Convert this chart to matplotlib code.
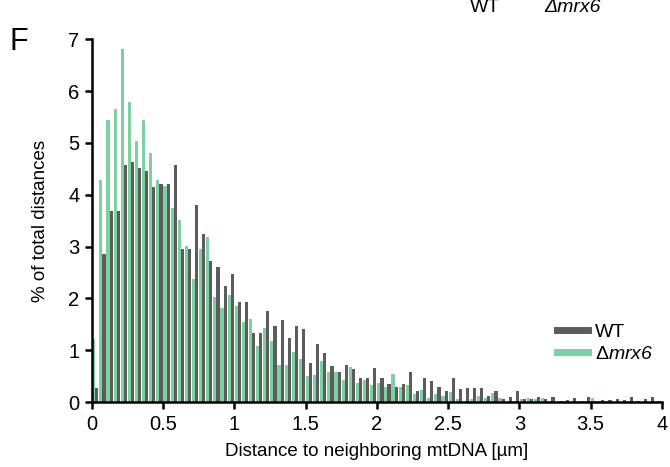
import numpy as np
import matplotlib
matplotlib.use("Agg")
import matplotlib.pyplot as plt
from matplotlib.lines import Line2D

plt.rcParams['font.family'] = ['Liberation Sans', 'DejaVu Sans']
plt.rcParams['mathtext.fontset'] = 'custom'
plt.rcParams['mathtext.rm'] = 'Liberation Sans:italic'
plt.rcParams['mathtext.it'] = 'Liberation Sans:italic'

# histogram, bins of 0.05 um from 0 to 4 (% of total distances)
bin_w = 0.05
wt = [0.27, 2.85, 3.68, 3.68, 4.57, 4.63, 4.52, 4.45, 4.15, 4.21,
      4.21, 4.57, 2.96, 2.96, 3.80, 3.25, 2.72, 2.60, 2.24, 2.48,
      1.94, 1.94, 1.34, 1.34, 1.76, 1.47, 1.59, 1.23, 1.47, 1.41,
      0.76, 1.12, 0.94, 0.70, 0.59, 0.71, 0.64, 0.47, 0.47, 0.65,
      0.47, 0.34, 0.29, 0.34, 0.58, 0.22, 0.47, 0.40, 0.29, 0.22,
      0.47, 0.26, 0.27, 0.27, 0.27, 0.12, 0.21, 0.05, 0.09, 0.21,
      0.05, 0.06, 0.10, 0.06, 0.09, 0.03, 0.04, 0.07, 0.03, 0.10,
      0.03, 0.04, 0.04, 0.06, 0.04, 0.09, 0.03, 0.06, 0.10, 0.03]
mrx6 = [1.21, 4.29, 5.45, 5.66, 6.82, 5.79, 5.03, 5.45, 4.81, 4.29,
        4.17, 3.74, 3.52, 3.01, 2.37, 2.96, 3.18, 2.03, 1.82, 2.07,
        1.85, 1.55, 1.60, 1.09, 1.43, 1.17, 0.71, 0.71, 0.96, 0.84,
        0.50, 0.53, 0.79, 0.58, 0.59, 0.42, 0.67, 0.37, 0.42, 0.33,
        0.37, 0.29, 0.54, 0.29, 0.33, 0.15, 0.24, 0.07, 0.16, 0.12,
        0.20, 0.05, 0.03, 0.06, 0.12, 0.07, 0.17, 0.08, 0.03, 0.02,
        0.05, 0.08, 0.06, 0.07, 0.02, 0.01, 0.02, 0.02, 0.01, 0.03,
        0.07, 0.02, 0.02, 0.01, 0.01, 0.02, 0.01, 0.01, 0.01, 0.01]
xticks = [0, 0.5, 1, 1.5, 2, 2.5, 3, 3.5, 4]
xticklabels = ['0', '0.5', '1', '1.5', '2', '2.5', '3', '3.5', '4']

c_wt = '#5c5c5c'
c_mrx = '#7dd1a1'

fig = plt.figure(figsize=(6.7, 4.67), dpi=100)
ax = fig.add_axes([0.137, 0.139, 0.851, 0.777])

edges = np.arange(len(wt)) * bin_w
bw = bin_w * 0.44
ax.bar(edges + bin_w * 0.05, mrx6, width=bw, align='edge', color=c_mrx, linewidth=0)
ax.bar(edges + bin_w * 0.05 + bw, wt, width=bw, align='edge', color=c_wt, linewidth=0)

ax.set_xlim(0, 4)
ax.set_ylim(0, 7)
ax.set_xticks(xticks)
ax.set_xticklabels(xticklabels)
ax.set_yticks(range(8))
for s in ['top', 'right']:
    ax.spines[s].set_visible(False)
for s in ['left', 'bottom']:
    ax.spines[s].set_linewidth(1.8)
ax.tick_params(direction='out', length=5, width=1.8, labelsize=14.5, pad=4)

ax.set_xlabel('Distance to neighboring mtDNA [µm]', fontsize=13.5, labelpad=7)
ax.set_ylabel('% of total distances', fontsize=13.5, labelpad=14)

handles = [Line2D([], [], color=c_wt, lw=5),
           Line2D([], [], color=c_mrx, lw=5)]
ax.legend(handles, ['WT', r'Δ$mrx6$'], loc='upper left',
          bbox_to_anchor=(0.785, 0.265), frameon=False, fontsize=14,
          handlelength=1.6, handletextpad=0.35, labelspacing=0.2)

fig.text(0.014, 0.893, 'F', fontsize=22, va='baseline')
fig.text(0.701, 0.974, 'WT', fontsize=14, va='baseline')
fig.text(0.813, 0.974, 'Δmrx6', fontsize=14, va='baseline', style='italic')

fig.savefig('out.png', dpi=100)
